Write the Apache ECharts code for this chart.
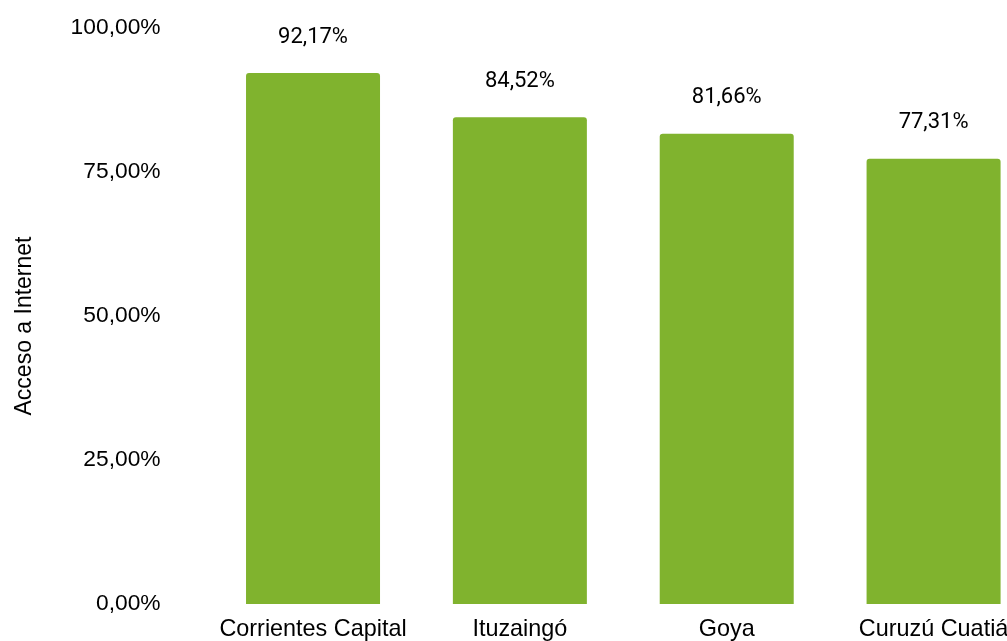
<!DOCTYPE html>
<html>
<head>
<meta charset="utf-8">
<script src="https://cdn.jsdelivr.net/npm/echarts@6/dist/echarts.min.js"></script>
<style>
html,body{margin:0;padding:0;background:#fff;overflow:hidden;width:1007px;height:641px;}
#chart{width:1037px;height:641px;}
</style>
</head>
<body>
<div id="chart"></div>
<script>
const categories = ["Corrientes Capital", "Ituzaingó", "Goya", "Curuzú Cuatiá"];
const values = [92.17, 84.52, 81.66, 77.31];
const yTicks = [0, 25, 50, 75, 100];
const yAxisName = "Acceso a Internet";

function pct(v, d) {
  return v.toFixed(d).replace('.', ',') + '%';
}

const chart = echarts.init(document.getElementById('chart'));
chart.setOption({
  animation: false,
  backgroundColor: '#ffffff',
  grid: { left: 209.6, right: 0, top: 28, bottom: 37, containLabel: false },
  xAxis: {
    type: 'category',
    data: categories,
    axisLine: { show: false },
    axisTick: { show: false },
    axisLabel: {
      interval: 0,
      margin: 14,
      color: '#000',
      fontFamily: 'Liberation Sans, Arial, sans-serif',
      fontSize: 23.4
    }
  },
  yAxis: {
    type: 'value',
    min: yTicks[0],
    max: yTicks[yTicks.length - 1],
    interval: 25,
    name: yAxisName,
    nameLocation: 'middle',
    nameGap: 173,
    nameRotate: 90,
    nameTextStyle: {
      color: '#000',
      fontFamily: 'Liberation Sans, Arial, sans-serif',
      fontSize: 23,
      padding: [0, 20, 0, 0]
    },
    axisLine: { show: false },
    axisTick: { show: false },
    splitLine: { show: false },
    axisLabel: {
      margin: 49,
      color: '#000',
      fontFamily: 'Liberation Sans, Arial, sans-serif',
      fontSize: 22.8,
      formatter: v => pct(v, 2)
    }
  },
  series: [{
    type: 'bar',
    data: values,
    barWidth: 134,
    itemStyle: { color: '#80B32E', borderRadius: [3, 3, 0, 0] },
    label: {
      show: true,
      position: 'top',
      distance: 25,
      color: '#000',
      fontFamily: 'Roboto, sans-serif',
      fontSize: 22,
      formatter: p => pct(p.value, 2)
    }
  }]
});
</script>
</body>
</html>
